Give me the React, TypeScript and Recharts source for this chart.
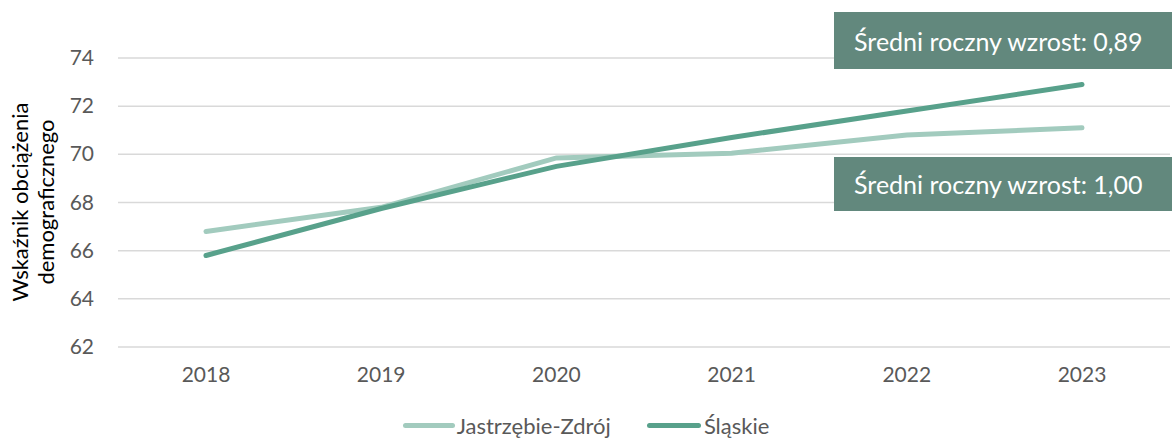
import React from 'react'
import { LineChart, Line, XAxis, YAxis, CartesianGrid, Legend } from 'recharts'

const years = ['2018', '2019', '2020', '2021', '2022', '2023']
const jastrzebie = [66.8, 67.8, 69.85, 70.05, 70.8, 71.1]
const slaskie = [65.8, 67.75, 69.5, 70.7, 71.8, 72.9]
const yTicks = [62, 64, 66, 68, 70, 72, 74]
const notes = ['Średni roczny wzrost: 0,89', 'Średni roczny wzrost: 1,00']

const FONT = 'Lato, "Liberation Sans", sans-serif'
const LIGHT = '#a2cbbe'
const DARK = '#58a18b'

const data = years.map((year, i) => ({
  year,
  jastrzebie: jastrzebie[i],
  slaskie: slaskie[i]
}))

const YTick = ({ x, y, payload }: any) => (
  <text x={x} y={y} dy={7} textAnchor="end" fill="#595959" fontSize={21} fontFamily={FONT}>
    {payload.value}
  </text>
)

const XTick = ({ x, y, payload }: any) => (
  <text x={x} y={y} dy={27} textAnchor="middle" fill="#595959" fontSize={21} fontFamily={FONT}>
    {payload.value}
  </text>
)

const YLabel = () => (
  <g fontFamily={FONT} fontSize={22} fill="#000">
    <text transform="translate(28,202) rotate(-90)" textAnchor="middle">Wskaźnik obciążenia</text>
    <text transform="translate(54,202) rotate(-90)" textAnchor="middle">demograficznego</text>
  </g>
)

const LegendContent = () => (
  <div style={{ display: 'flex', justifyContent: 'center', fontFamily: FONT, fontSize: 22, color: '#595959' }}>
    <span style={{ display: 'flex', alignItems: 'center', marginRight: 36 }}>
      <span style={{ width: 52, height: 5, borderRadius: 3, background: LIGHT, marginRight: 2 }} />
      Jastrzębie-Zdrój
    </span>
    <span style={{ display: 'flex', alignItems: 'center' }}>
      <span style={{ width: 54, height: 5, borderRadius: 3, background: DARK, marginRight: 3 }} />
      Śląskie
    </span>
  </div>
)

const boxStyle: React.CSSProperties = {
  position: 'absolute',
  left: 834,
  width: 338,
  background: '#62887d',
  color: '#fff',
  fontFamily: FONT,
  fontSize: 25,
  boxSizing: 'border-box',
  paddingLeft: 20,
  display: 'flex',
  alignItems: 'center'
}

export default function App() {
  return (
    <div style={{ position: 'relative', width: 1172, height: 439, overflow: 'hidden', background: '#fff' }}>
      <style>{`body{margin:0}`}</style>
      <LineChart width={1172} height={439} data={data} margin={{ top: 58, right: 2, left: 0, bottom: 15 }}>
        <CartesianGrid vertical={false} stroke="#d9d9d9" strokeWidth={1.5} />
        <XAxis
          dataKey="year"
          axisLine={false}
          tickLine={false}
          tick={<XTick />}
          height={50}
          padding={{ left: 88, right: 88 }}
        />
        <YAxis
          domain={[62, 74]}
          ticks={yTicks}
          axisLine={false}
          tickLine={false}
          tickSize={0}
          tickMargin={24}
          tick={<YTick />}
          width={118}
          label={<YLabel />}
        />
        <Legend
          verticalAlign="bottom"
          content={<LegendContent />}
          wrapperStyle={{ bottom: 0, left: 0, width: 1172 }}
        />
        <Line
          type="linear"
          dataKey="jastrzebie"
          name="Jastrzębie-Zdrój"
          stroke={LIGHT}
          strokeWidth={5}
          strokeLinecap="round"
          dot={false}
          isAnimationActive={false}
        />
        <Line
          type="linear"
          dataKey="slaskie"
          name="Śląskie"
          stroke={DARK}
          strokeWidth={5}
          strokeLinecap="round"
          dot={false}
          isAnimationActive={false}
        />
      </LineChart>
      <div style={{ ...boxStyle, top: 12, height: 57 }}>{notes[0]}</div>
      <div style={{ ...boxStyle, top: 157, height: 54 }}>{notes[1]}</div>
    </div>
  )
}
